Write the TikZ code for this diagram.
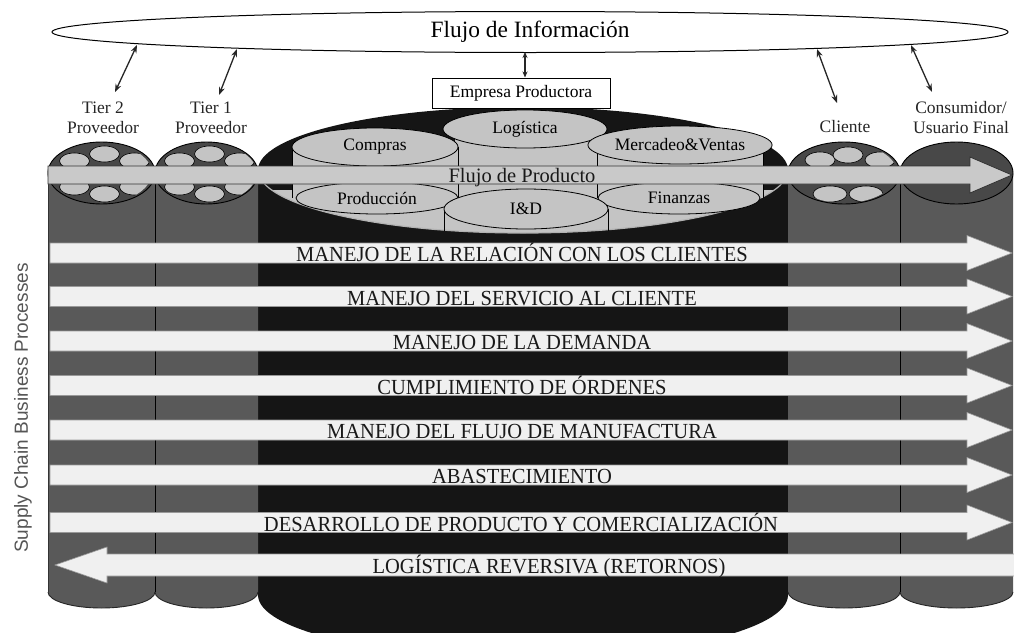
\documentclass[tikz,border=0pt]{standalone}
\usepackage{fontspec}
\setmainfont{Liberation Serif}
\newfontfamily\sansfam{Liberation Sans}
\usetikzlibrary{arrows.meta,shapes.geometric}
\definecolor{colgray}{HTML}{595959}
\definecolor{topgray}{HTML}{484848}
\definecolor{coreblack}{HTML}{151515}
\definecolor{discgray}{HTML}{C4C4C4}
\definecolor{bandwhite}{HTML}{F0F0F0}
\definecolor{shaftgray}{HTML}{C9C9C9}
\definecolor{inkgray}{HTML}{555555}
\begin{document}
\begin{tikzpicture}[x=1pt,y=-1pt,
  lbl/.style={font=\fontsize{17.5}{20}\selectfont, align=center, inner sep=0pt, text=black!85},
  bandtxt/.style={font=\fontsize{21.5}{22}\selectfont, xscale=0.955, anchor=base, inner sep=0pt, text=black!90},
  disc/.style={ellipse, fill=discgray, draw=black, line width=0.8pt, inner sep=0pt, font=\fontsize{17.5}{20}\selectfont},
  bandshape/.style={fill=bandwhite, draw=black!40, line width=0.6pt},
  biarrow/.style={{Stealth[length=8pt,width=6pt]}-{Stealth[length=8pt,width=6pt]}, line width=1.3pt, draw=black!85},
  smalldisc/.style={fill=discgray, draw=black, line width=0.6pt},
  coltop/.style={fill=topgray, draw=black, line width=0.9pt},
  sideline/.style={draw=black, line width=0.8pt},
]
\useasboundingbox (0,0) rectangle (1014,632);
\fill[white] (0,0) rectangle (1014,632);
\begin{scope}
\clip (0,0) rectangle (1014,632);

% central column body
\fill[coreblack] (258,170) -- (258,595) arc[start angle=180,end angle=360,x radius=265pt,y radius=63pt] -- (788,170) -- cycle;

% side column bodies
\foreach \xa/\xb/\rx in {48/155/53.5,155/258/51.5,788/900/56,900/1013/56.5} {
  \fill[colgray] (\xa,173) -- (\xa,592) arc[start angle=180,end angle=360,x radius=\rx pt,y radius=16pt] -- (\xb,173) -- cycle;
  \draw[black!85,line width=0.9pt] (\xa,592) arc[start angle=180,end angle=360,x radius=\rx pt,y radius=16pt];
}
\draw[black,line width=0.9pt] (155,173) -- (155,592);
\draw[black,line width=0.9pt] (900,173) -- (900,592);
\draw[black!80,line width=0.9pt] (48,173) -- (48,592);

% side column tops
\foreach \cx/\rx in {101.5/53.5,206.5/51.5,844/56,956.5/56.5}
  \filldraw[coltop] (\cx,173) ellipse[x radius=\rx pt,y radius=31pt];

\foreach \cx in {101.5,206.5} {
  \begin{scope}
    \clip (\cx,173) ellipse[x radius=50pt,y radius=30pt];
    \foreach \dx/\dy in {-27/-12,3/-19,33/-12,-27/14,3/21,33/14}
      \filldraw[smalldisc] (\cx+\dx,173+\dy) ellipse[x radius=15pt,y radius=8pt];
  \end{scope}
}
\begin{scope}
  \clip (844,173) ellipse[x radius=53pt,y radius=30pt];
  \foreach \dx/\dy/\r in {-24/-13/15,4/-18/15,36/-13/15,-14/21/17,22/21/17}
    \filldraw[smalldisc] (844+\dx,173+\dy) ellipse[x radius=\r pt,y radius=8pt];
\end{scope}

% central top
\fill[coreblack] (523,170) ellipse[x radius=265pt,y radius=63pt];
\begin{scope}
  \clip (523,170) ellipse[x radius=265pt,y radius=63pt];
  \fill[discgray] (258,190) rectangle (788,240);
\end{scope}
\draw[black!30,line width=1.2pt] (258,170) arc[start angle=180,end angle=360,x radius=265pt,y radius=63pt];

% Logistica
\fill[discgray] (455,129) rectangle (597,200);
\node[disc, minimum width=164pt, minimum height=38pt] (log) at (525,129) {Logística};
% Compras
\fill[discgray] (292,147) rectangle (458,198);
\draw[sideline] (292,147) -- (292,198);
\draw[sideline] (458,147) -- (458,198);
\node[disc, minimum width=166pt, minimum height=38pt] (com) at (375,147) {Compras};
% Mercadeo
\fill[discgray] (597,145) rectangle (763,198);
\draw[sideline] (597,145) -- (597,198);
\draw[sideline] (763,145) -- (763,198);
\node[disc, minimum width=166pt, minimum height=38pt] (mer) at (680,145) {Mercadeo\&Ventas};
% lower row
\node[disc, minimum width=162pt, minimum height=32pt] (pro) at (377,198) {Producción};
\node[disc, minimum width=162pt, minimum height=32pt] (fin) at (679,198) {Finanzas};
\draw[sideline] (444,209) -- (444,231);
\draw[sideline] (608,209) -- (608,231);
\node[disc, minimum width=164pt, minimum height=40pt] (ide) at (526,209) {I\&D};

% Flujo de producto
\filldraw[fill=shaftgray, draw=black!80, line width=0.8pt]
  (48,166) -- (970,166) -- (970,157) -- (1012,175) -- (970,193) -- (970,184) -- (48,184) -- cycle;
\node[inner sep=0pt, anchor=base, text=black!90, font=\fontsize{20.5}{22}\selectfont] (fp) at (522,182) {Flujo de Producto};

% process bands
\foreach \yc in {253,296.5,341,385.5,430,475,522.5}
  \filldraw[bandshape] (50,\yc-10) -- (967,\yc-10) -- (967,\yc-17.5) -- (1012,\yc) -- (967,\yc+17.5) -- (967,\yc+10) -- (50,\yc+10) -- cycle;
\filldraw[bandshape] (1016,554) -- (107,554) -- (107,547) -- (55,565) -- (107,583) -- (107,576) -- (1016,576) -- cycle;

\node[bandtxt] (b1) at (522,261.5) {MANEJO DE LA RELACIÓN CON LOS CLIENTES};
\node[bandtxt] (b2) at (522,305) {MANEJO DEL SERVICIO AL CLIENTE};
\node[bandtxt] (b3) at (522,349.5) {MANEJO DE LA DEMANDA};
\node[bandtxt] (b4) at (522,394) {CUMPLIMIENTO DE ÓRDENES};
\node[bandtxt] (b5) at (522,438.5) {MANEJO DEL FLUJO DE MANUFACTURA};
\node[bandtxt] (b6) at (522,483.5) {ABASTECIMIENTO};
\node[bandtxt] (b7) at (521,531) {DESARROLLO DE PRODUCTO Y COMERCIALIZACIÓN};
\node[bandtxt] (b8) at (549,573.5) {LOGÍSTICA REVERSIVA (RETORNOS)};

% information flow
\node[ellipse, draw=black, line width=1pt, fill=white, minimum width=956pt, minimum height=41pt, inner sep=0pt,
      font=\fontsize{23.4}{26}\selectfont] (info) at (530,32) {Flujo de Información};

\node[draw=black, line width=1pt, fill=white, minimum width=178pt, minimum height=30pt, inner sep=0pt,
      font=\fontsize{17.5}{20}\selectfont] (emp) at (521,93) {Empresa Productora};

\node[lbl] (t2) at (103,118) {Tier 2\\Proveedor};
\node[lbl] (t1) at (211,118) {Tier 1\\Proveedor};
\node[lbl] (cli) at (845,127) {Cliente};
\node[lbl] (con) at (961,118) {Consumidor/\\Usuario Final};

\coordinate (p1) at (137,45);
\coordinate (q1) at (115,92);
\coordinate (p2) at (237,49);
\coordinate (q2) at (219,95);
\coordinate (p3) at (525,52);
\coordinate (p4) at (817,49);
\coordinate (q4) at (837,103);
\coordinate (p5) at (911,45);
\coordinate (q5) at (932,92);
\draw[biarrow] (p1) -- (q1);
\draw[biarrow] (p2) -- (q2);
\draw[{Stealth[length=6pt,width=5pt]}-{Stealth[length=6pt,width=5pt]}, line width=1.3pt, draw=black!85] (p3) -- (p3 |- emp.north);
\draw[biarrow] (p4) -- (q4);
\draw[biarrow] (p5) -- (q5);

\node[rotate=90, inner sep=0pt, font=\sansfam\fontsize{19}{22}\selectfont, text=inkgray] (scbp) at (23,408) {Supply Chain Business Processes};
\end{scope}
\end{tikzpicture}
\end{document}
